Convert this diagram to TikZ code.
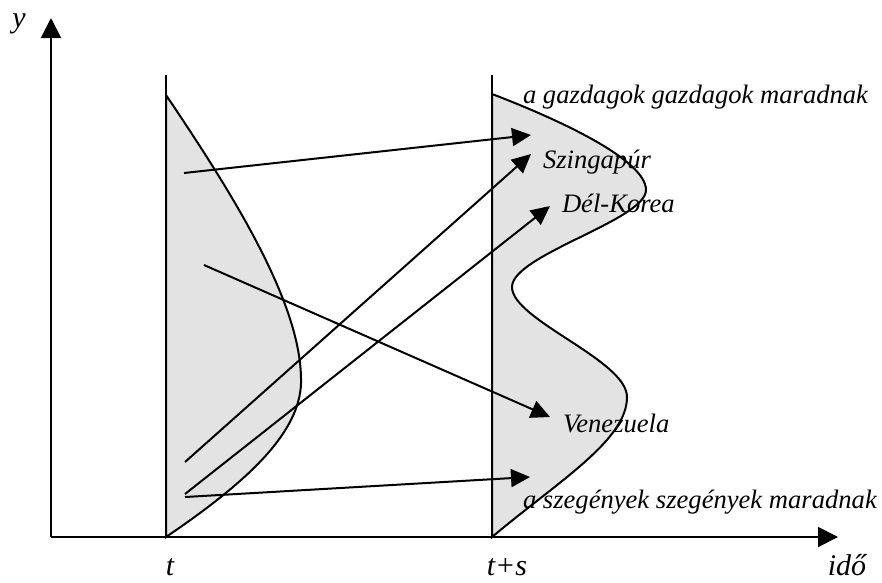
\documentclass[tikz,border=0pt]{standalone}
\usepackage{fontspec}
\setmainfont{Liberation Serif}
\usetikzlibrary{arrows.meta}
\definecolor{shadegray}{gray}{0.89}

\begin{document}
\begin{tikzpicture}[x=1pt, y=-1pt, line width=2pt, every node/.style={font=\fontsize{26.6}{30}\selectfont\itshape, inner sep=0pt}, axislabel/.style={anchor=base, font=\fontsize{30}{34}\selectfont\itshape}, axis/.style={-{Triangle[length=20pt,width=20pt]}}, move/.style={-{Triangle[length=19pt,width=18pt]}}, region/.style={fill=shadegray}]
	\useasboundingbox (0,0) rectangle (882,582);
	\coordinate (O) at (51,537);
	\coordinate (ytip) at (51,18);
	\coordinate (xtip) at (838,537);
	\coordinate (tbot) at (166,537);
	\coordinate (ttop) at (166,75);
	\coordinate (tsbot) at (492,537);
	\coordinate (tstop) at (492,75);
	\draw[region] (166,95) .. controls (230,190) and (300,300) .. (301,378) .. controls (303,430) and (250,480) .. (tbot) -- cycle;
	\draw[region] (492,94) .. controls (560,120) and (646,160) .. (646,190) .. controls (646,220) and (512,255) .. (512,287) .. controls (512,320) and (627,360) .. (627,397) .. controls (627,440) and (560,480) .. (tsbot) -- cycle;
	\draw (tbot) -- (ttop);
	\draw (tsbot) -- (tstop);
	\draw[axis] (O) -- (ytip);
	\draw[axis] (O) -- (xtip);
	\node[axislabel] (ylab) at (19,27) {y};
	\node[axislabel] (tlab) at (170,575) {t};
	\node[axislabel] (tslab) at (507,575) {t+s};
	\node[axislabel] (idolab) at (847,575) {idő};
	\node[anchor=base west] (rich) at (522,103) {a gazdagok gazdagok maradnak};
	\node[anchor=base west] (sing) at (542,168) {Szingapúr};
	\node[anchor=base west] (korea) at (561,212) {Dél-Korea};
	\node[anchor=base west] (venez) at (562,432) {Venezuela};
	\node[anchor=base west] (poor) at (522,508) {a szegények szegények maradnak};
	\coordinate (rich0) at (184,173);
	\coordinate (richT) at (531,135);
	\coordinate (sing0) at (185,462);
	\coordinate (singT) at (531,154);
	\coordinate (korea0) at (185,494);
	\coordinate (koreaT) at (550,206);
	\coordinate (venez0) at (204,265);
	\coordinate (venezT) at (550,417);
	\coordinate (poor0) at (185,497);
	\coordinate (poorT) at (530,477);
	\draw[move] (rich0) -- (richT);
	\draw[move] (sing0) -- (singT);
	\draw[move] (korea0) -- (koreaT);
	\draw[move] (venez0) -- (venezT);
	\draw[move] (poor0) -- (poorT);
\end{tikzpicture}
\end{document}
